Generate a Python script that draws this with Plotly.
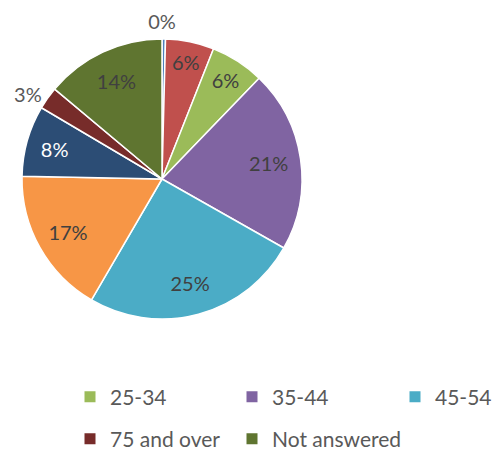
import plotly.graph_objects as go

categories = ["Under 18", "18-24", "25-34", "35-44", "45-54", "55-64", "65-74", "75 and over", "Not answered"]
values = [0.4, 5.6, 6.2, 21.0, 25.2, 16.9, 8.2, 2.6, 13.9]
colors = ["#4F81BD", "#C0504D", "#9BBB59", "#8064A2", "#4BACC6", "#F79646", "#2C4D75", "#772C2A", "#5F7530"]
# where each slice's percentage label goes: "in" = inside, "out" = outside, "top" = centred above the pie
label_place = ["top", "in", "in", "in", "in", "in", "in", "out", "in"]
text_colors = ["#595959", "#404040", "#404040", "#404040", "#404040", "#404040", "#FFFFFF", "#595959", "#404040"]
# visible legend entries, laid out as (row, column) in the reference
legend_entries = ["25-34", "35-44", "45-54", "75 and over", "Not answered"]
legend_cells = [(0, 0), (0, 1), (0, 2), (1, 0), (1, 1)]

FONT = "Lato, 'Open Sans', sans-serif"
W, H = 493, 455
cx, cy, r = 162, 179, 140
col_x = [70, 232, 395]
row_y = [397, 439]


def dom(rad, extra_top=0):
    return dict(x=[(cx - rad) / W, (cx + rad) / W],
                y=[1 - (cy + rad) / H, 1 - (cy - rad - extra_top) / H])


PCT = "%{percent:.0%}"
clear = ["rgba(0,0,0,0)"] * len(categories)
total = sum(values)
top_label = " ".join(f"{round(v / total * 100)}%" for v, p in zip(values, label_place) if p == "top")

fig = go.Figure()
# transparent pie whose title carries the label of the thin slice at 12 o'clock
fig.add_trace(go.Pie(
    labels=categories, values=values, sort=False, direction="clockwise", rotation=0,
    marker=dict(colors=clear, line=dict(width=0)), textinfo="none",
    title=dict(text=top_label, position="top center",
               font=dict(family=FONT, size=20, color="#595959")),
    showlegend=False, hoverinfo="skip", domain=dom(r, extra_top=37),
))
# the slices
fig.add_trace(go.Pie(
    labels=categories, values=values, sort=False, direction="clockwise", rotation=0,
    marker=dict(colors=colors, line=dict(color="white", width=1.5)),
    textinfo="none", showlegend=False, hoverinfo="label+percent",
    domain=dom(r),
))
# transparent ring on top, carrying the inside / outside percentage labels
fig.add_trace(go.Pie(
    labels=categories, values=values, sort=False, direction="clockwise", rotation=0,
    hole=0.54, marker=dict(colors=clear, line=dict(width=0)),
    texttemplate=[PCT if p in ("in", "out") else "" for p in label_place],
    textposition=["outside" if p == "out" else "inside" for p in label_place],
    insidetextorientation="horizontal",
    textfont=dict(family=FONT, size=20, color=text_colors),
    showlegend=False, hoverinfo="skip", domain=dom(r),
))

color_of = dict(zip(categories, colors))
layout_legends = {}
for i, (name, (row, col)) in enumerate(zip(legend_entries, legend_cells)):
    lid = "legend" if i == 0 else f"legend{i + 1}"
    fig.add_trace(go.Scatter(x=[None], y=[None], mode="markers", name=name,
                             marker=dict(symbol="square", size=11, color=color_of[name]),
                             legend=lid))
    layout_legends[lid] = dict(
        x=col_x[col] / W, y=1 - row_y[row] / H, xref="paper", yref="paper",
        xanchor="left", yanchor="middle", orientation="h",
        font=dict(family=FONT, size=21, color="#595959"),
        bgcolor="rgba(0,0,0,0)", itemclick=False, itemdoubleclick=False)

fig.update_layout(
    width=W, height=H, margin=dict(l=0, r=0, t=0, b=0, autoexpand=False),
    paper_bgcolor="white", plot_bgcolor="white",
    xaxis=dict(visible=False), yaxis=dict(visible=False),
    **layout_legends,
)

fig.write_html("out.html", config={"displayModeBar": False},
               post_script="document.body.style.margin='0px';")
